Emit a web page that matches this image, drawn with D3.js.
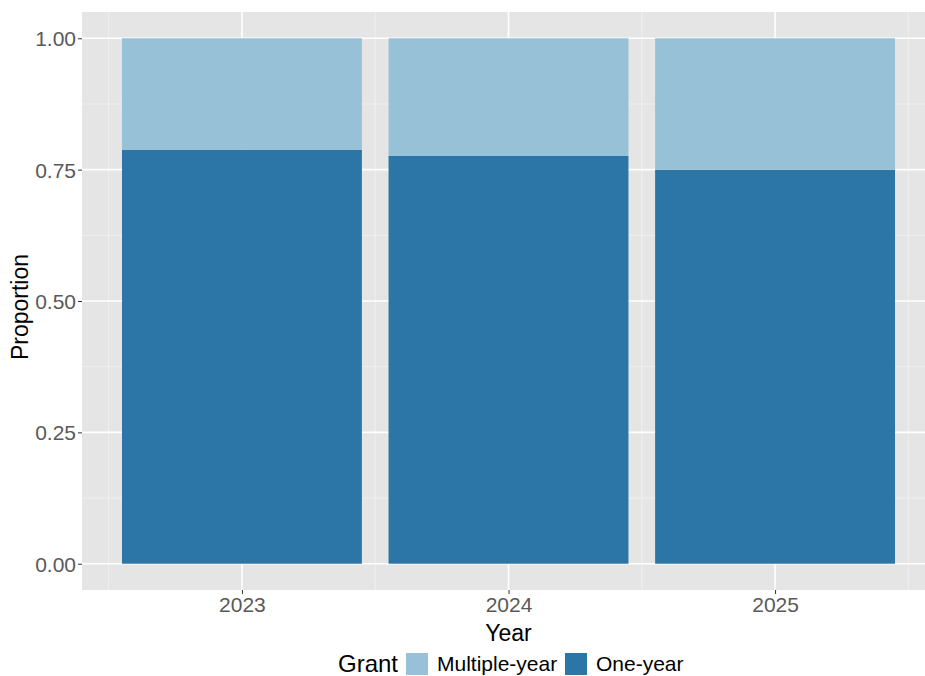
<!DOCTYPE html>
<html>
<head>
<meta charset="utf-8">
<script src="https://cdn.jsdelivr.net/npm/d3@7"></script>
<style>
  body { margin: 0; background: #fff; }
  text { font-family: "Liberation Sans", Arial, sans-serif; }
</style>
</head>
<body>
<svg id="chart"></svg>
<script>
var years = ["2023", "2024", "2025"];
var oneYear = [0.788, 0.776, 0.750];
var multiYear = [0.212, 0.224, 0.250];
var yTicks = [0, 0.25, 0.5, 0.75, 1];
var grantLabels = ["Multiple-year", "One-year"];
var grantColors = ["#96c1d7", "#2b76a7"];

var svgWidth = 925, svgHeight = 676;
var panel = { left: 82, right: 935, top: 12, bottom: 590 };

var svg = d3.select("#chart")
  .attr("width", svgWidth)
  .attr("height", svgHeight);

let xScale = d3.scalePoint()
  .domain(years)
  .range([panel.left, panel.right])
  .padding(0.6);

let barWidth = xScale.step() * 0.9;

let yScale = d3.scaleLinear()
  .domain([-0.05, 1.05])
  .range([panel.bottom, panel.top]);

// panel background
svg.append("rect")
  .attr("x", panel.left)
  .attr("y", panel.top)
  .attr("width", panel.right - panel.left)
  .attr("height", panel.bottom - panel.top)
  .attr("fill", "#e5e5e5");

// minor grid
let minorY = d3.range(0.125, 1, 0.25);
svg.selectAll(".minorY")
  .data(minorY)
  .enter().append("line")
  .attr("x1", panel.left).attr("x2", panel.right)
  .attr("y1", d => yScale(d)).attr("y2", d => yScale(d))
  .attr("stroke", "#f2f2f2").attr("stroke-width", 0.8);

let minorX = [0.5, 1.5, 2.5, 3.5].map(k => xScale(years[0]) + (k - 1) * xScale.step());
svg.selectAll(".minorX")
  .data(minorX)
  .enter().append("line")
  .attr("x1", d => d).attr("x2", d => d)
  .attr("y1", panel.top).attr("y2", panel.bottom)
  .attr("stroke", "#f2f2f2").attr("stroke-width", 0.8);

// major grid
svg.selectAll(".majorY")
  .data(yTicks)
  .enter().append("line")
  .attr("x1", panel.left).attr("x2", panel.right)
  .attr("y1", d => yScale(d)).attr("y2", d => yScale(d))
  .attr("stroke", "#ffffff").attr("stroke-width", 1.6);

svg.selectAll(".majorX")
  .data(years)
  .enter().append("line")
  .attr("x1", d => xScale(d)).attr("x2", d => xScale(d))
  .attr("y1", panel.top).attr("y2", panel.bottom)
  .attr("stroke", "#ffffff").attr("stroke-width", 1.6);

// stacked bars
let stackData = years.map((y, i) => ({ year: y, one: oneYear[i], multi: multiYear[i] }));

svg.selectAll(".barOne")
  .data(stackData)
  .enter().append("rect")
  .attr("x", d => xScale(d.year) - barWidth / 2)
  .attr("width", barWidth)
  .attr("y", d => yScale(d.one))
  .attr("height", d => yScale(0) - yScale(d.one))
  .attr("fill", grantColors[1]);

svg.selectAll(".barMulti")
  .data(stackData)
  .enter().append("rect")
  .attr("x", d => xScale(d.year) - barWidth / 2)
  .attr("width", barWidth)
  .attr("y", d => yScale(d.one + d.multi))
  .attr("height", d => yScale(d.one) - yScale(d.one + d.multi))
  .attr("fill", grantColors[0]);

// axes
let yAxis = d3.axisLeft(yScale)
  .tickValues(yTicks)
  .tickFormat(d3.format(".2f"))
  .tickSize(4)
  .tickPadding(2);

let gy = svg.append("g")
  .attr("transform", `translate(${panel.left}, 0)`)
  .call(yAxis);
gy.select(".domain").remove();
gy.selectAll("line").attr("stroke", "#333333");
gy.selectAll("text")
  .style("font-size", "21px")
  .attr("fill", "#595959")
  .attr("dy", "0.36em");

let xAxis = d3.axisBottom(xScale)
  .tickSize(4)
  .tickPadding(3);

let gx = svg.append("g")
  .attr("transform", `translate(0, ${panel.bottom})`)
  .call(xAxis);
gx.select(".domain").remove();
gx.selectAll("line").attr("stroke", "#333333");
gx.selectAll("text")
  .style("font-size", "21px")
  .attr("fill", "#595959");

// axis titles
svg.append("text")
  .attr("x", (panel.left + panel.right) / 2)
  .attr("y", 641)
  .style("text-anchor", "middle")
  .style("font-size", "23px")
  .attr("fill", "#000")
  .text("Year");

svg.append("text")
  .attr("transform", "translate(28, 307) rotate(-90)")
  .style("text-anchor", "middle")
  .style("font-size", "23px")
  .attr("fill", "#000")
  .text("Proportion");

// legend
let legend = svg.append("g");
legend.append("text")
  .attr("x", 338)
  .attr("y", 672)
  .style("font-size", "24px")
  .attr("fill", "#000")
  .text("Grant");

let keyX = [406, 565];
legend.selectAll(".key")
  .data(grantLabels)
  .enter().append("rect")
  .attr("x", (d, i) => keyX[i])
  .attr("y", 653)
  .attr("width", 22)
  .attr("height", 22)
  .attr("fill", (d, i) => grantColors[i]);

legend.selectAll(".keyLabel")
  .data(grantLabels)
  .enter().append("text")
  .attr("x", (d, i) => keyX[i] + 31)
  .attr("y", 671)
  .style("font-size", "21px")
  .attr("fill", "#000")
  .text(d => d);
</script>
</body>
</html>
